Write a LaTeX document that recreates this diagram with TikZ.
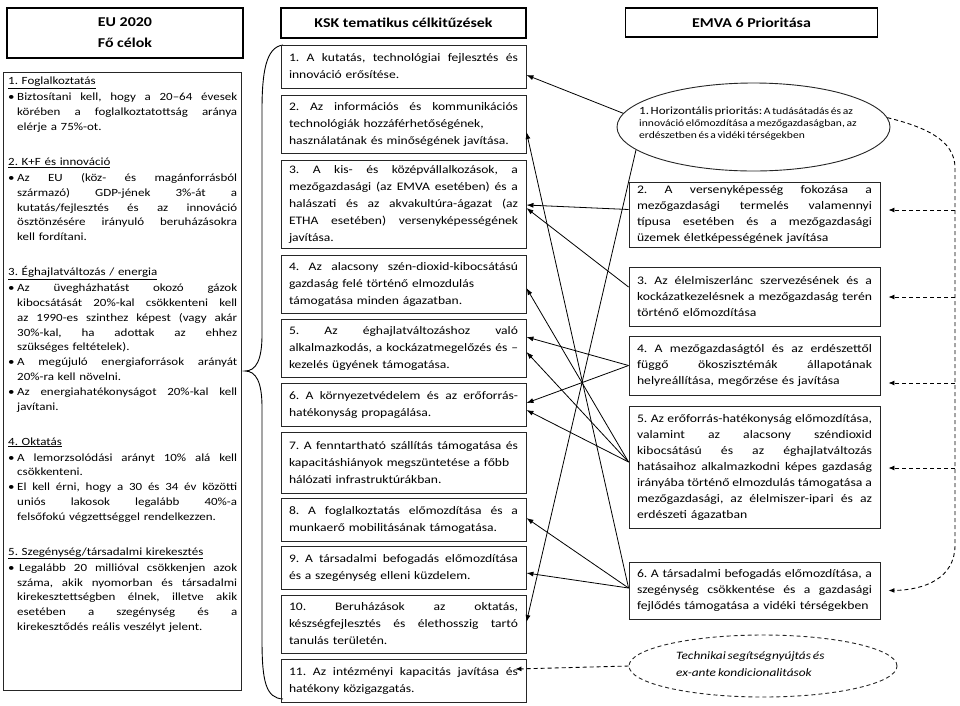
\documentclass[tikz,border=0pt]{standalone}
\usepackage{fontspec}
\setmainfont{Carlito}[FakeStretch=1.18]
\usetikzlibrary{arrows.meta,calc,shapes.geometric}
\frenchspacing
\newcommand{\bu}{\makebox[9pt][l]{\textbullet}}
\newcommand{\ind}{\hspace*{9pt}}
\newcommand{\jline}[2]{\leavevmode\hbox to #1{\spaceskip=0.1em plus 1fil minus 0.05em\relax #2}}
\newcommand{\LJ}[1]{\jline{220pt}{#1}}
\newcommand{\MJ}[1]{\jline{229pt}{#1}}
\newcommand{\RJ}[1]{\jline{235pt}{#1}}
\newcommand{\tsp}{\spaceskip=0.17em plus 0.05em\relax}
\begin{document}
\begin{tikzpicture}[x=1pt,y=-1pt,
  hdr/.style={draw=black, line width=1.8pt, align=center, inner sep=0pt, font=\fontsize{13.5}{21}\selectfont\bfseries},
  mbox/.style={draw=black!85, line width=0.9pt, minimum width=245pt, text width=229pt, inner xsep=8pt, inner ysep=0pt, align=left, font=\fontsize{11.5}{17}\selectfont\tsp},
  rbox/.style={draw=black!85, line width=0.9pt, minimum width=251pt, text width=235pt, inner xsep=8pt, inner ysep=0pt, align=left, font=\fontsize{11.6}{16}\selectfont\tsp},
  conn/.style={line width=0.8pt, -{Latex[length=7pt,width=5pt]}},
  dline/.style={line width=0.9pt, dash pattern=on 4pt off 3pt},
  dconn/.style={dline, -{Latex[length=6pt,width=5pt]}}]
\useasboundingbox (0,0) rectangle (960,705);
\fill[white] (0,0) rectangle (960,705);

% headers
\node[hdr, minimum width=236pt, minimum height=50pt] (hl) at (125,33) {EU 2020\\Fő célok};
\node[hdr, minimum width=245pt, minimum height=30pt] (hm) at (403.5,23) {KSK tematikus célkitűzések};
\node[hdr, minimum width=252pt, minimum height=29pt] (hr) at (751.5,22.5) {EMVA 6 Prioritása};

% left box
\node[draw=black!85, line width=0.9pt, minimum width=238pt, minimum height=618pt, inner sep=0pt] (lb) at (122,381) {};
\node[anchor=north west, inner sep=0pt, text width=229pt, align=left, font=\fontsize{11}{14.8}\selectfont\tsp] (lt) at (8,77) {%
\underline{1. Foglalkoztatás}\\[1.2pt]
\bu\LJ{Biztosítani kell, hogy a 20–64 évesek}\\
\ind\LJ{körében a foglalkoztatottság aránya}\\
\ind elérje a 75\%-ot.\\[20.2pt]
\underline{2. K+F és innováció}\\[1.2pt]
\bu\LJ{Az EU (köz- és magánforrásból}\\
\ind\LJ{származó) GDP-jének 3\%-át a}\\
\ind\LJ{kutatás/fejlesztés és az innováció}\\
\ind\LJ{ösztönzésére irányuló beruházásokra}\\
\ind kell fordítani.\\[20.2pt]
\underline{3. Éghajlatváltozás / energia}\\[1.2pt]
\bu\LJ{Az üvegházhatást okozó gázok}\\
\ind\LJ{kibocsátását 20\%-kal csökkenteni kell}\\
\ind\LJ{az 1990-es szinthez képest (vagy akár}\\
\ind\LJ{30\%-kal, ha adottak az ehhez}\\
\ind szükséges feltételek).\\
\bu\LJ{A megújuló energiaforrások arányát}\\
\ind 20\%-ra kell növelni.\\
\bu\LJ{Az energiahatékonyságot 20\%-kal kell}\\
\ind javítani.\\[20.2pt]
\underline{4. Oktatás}\\[1.2pt]
\bu\LJ{A lemorzsolódási arányt 10\% alá kell}\\
\ind csökkenteni.\\
\bu\LJ{El kell érni, hogy a 30 és 34 év közötti}\\
\ind\LJ{uniós lakosok legalább 40\%-a}\\
\ind felsőfokú végzettséggel rendelkezzen.\\[20.2pt]
\underline{5. Szegénység/társadalmi kirekesztés}\\[1.2pt]
\bu\LJ{\hspace{2pt}Legalább 20 millióval csökkenjen azok}\\
\ind\LJ{száma, akik nyomorban és társadalmi}\\
\ind\LJ{kirekesztettségben élnek, illetve akik}\\
\ind\LJ{esetében a szegénység és a}\\
\ind kirekesztődés reális veszélyt jelent.};

% brace
\draw[line width=0.9pt] (283,45) .. controls (266,47) and (262,72) .. (262,110) -- (262,335) .. controls (262,360) and (256,371) .. (245,371) .. controls (256,371) and (262,382) .. (262,407) -- (262,640) .. controls (262,682) and (266,698) .. (283,699);

% middle boxes
\node[mbox, minimum height=43pt] (m1) at (403.5,66.5) {\MJ{1. A kutatás, technológiai fejlesztés és}\\innováció erősítése.};
\node[mbox, minimum height=58pt] (m2) at (403.5,124) {\MJ{2. Az információs és kommunikációs}\\technológiák hozzáférhetőségének,\\használatának és minőségének javítása.};
\node[mbox, minimum height=88pt] (m3) at (403.5,204) {\MJ{3. A kis- és középvállalkozások, a}\\\MJ{mezőgazdasági (az EMVA esetében) és a}\\\MJ{halászati és az akvakultúra-ágazat (az}\\\MJ{ETHA esetében) versenyképességének}\\javítása.};
\node[mbox, minimum height=58pt] (m4) at (403.5,284) {\MJ{4. Az alacsony szén-dioxid-kibocsátású}\\gazdaság felé történő elmozdulás\\támogatása minden ágazatban.};
\node[mbox, minimum height=58pt] (m5) at (403.5,348) {\MJ{5. Az éghajlatváltozáshoz való}\\\MJ{alkalmazkodás, a kockázatmegelőzés és –}\\kezelés ügyének támogatása.};
\node[mbox, minimum height=43pt] (m6) at (403.5,404.5) {\MJ{6. A környezetvédelem és az erőforrás-}\\hatékonyság propagálása.};
\node[mbox, minimum height=61pt] (m7) at (403.5,462.5) {\MJ{7. A fenntartható szállítás támogatása és}\\kapacitáshiányok megszüntetése a főbb\\hálózati infrastruktúrákban.};
\node[mbox, minimum height=43pt] (m8) at (403.5,519.5) {\MJ{8. A foglalkoztatás előmozdítása és a}\\munkaerő mobilitásának támogatása.};
\node[mbox, minimum height=43pt] (m9) at (403.5,567.5) {\MJ{9. A társadalmi befogadás előmozdítása}\\és a szegénység elleni küzdelem.};
\node[mbox, minimum height=58pt] (m10) at (403.5,624) {\MJ{10. Beruházások az oktatás,}\\\MJ{készségfejlesztés és élethosszig tartó}\\tanulás területén.};
\node[mbox, minimum height=43pt] (m11) at (403.5,680.5) {\MJ{11. Az intézményi kapacitás javítása és}\\hatékony közigazgatás.};

% right column
\node[draw=black!85, line width=0.9pt, ellipse, minimum width=273pt, minimum height=88pt, inner sep=0pt] (h1) at (753.5,127) {};
\node[anchor=north west, inner sep=0pt, align=left, font=\fontsize{9.8}{12}\selectfont\tsp] (h1t) at (639,106.5) {{\fontsize{11}{12}\selectfont 1. Horizontális prioritás:} A tudásátadás és az\\innováció előmozdítása a mezőgazdaságban, az\\erdészetben és a vidéki térségekben};

\node[rbox, minimum height=65pt] (r2) at (754.5,214.5) {\RJ{2. A versenyképesség fokozása a}\\\RJ{mezőgazdasági termelés valamennyi}\\\RJ{típusa esetében és a mezőgazdasági}\\üzemek életképességének javítása};
\node[rbox, minimum height=59pt] (r3) at (754.5,296.5) {\RJ{3. Az élelmiszerlánc szervezésének és a}\\\RJ{kockázatkezelésnek a mezőgazdaság terén}\\történő előmozdítása};
\node[rbox, minimum height=59pt] (r4) at (754.5,365.5) {\RJ{4. A mezőgazdaságtól és az erdészettől}\\\RJ{függő ökoszisztémák állapotának}\\helyreállítása, megőrzése és javítása};
\node[rbox, minimum height=122pt] (r5) at (754.5,467) {\RJ{5. Az erőforrás-hatékonyság előmozdítása,}\\\RJ{valamint az alacsony széndioxid}\\\RJ{kibocsátású és az éghajlatváltozás}\\\RJ{hatásaihoz alkalmazkodni képes gazdaság}\\\RJ{irányába történő elmozdulás támogatása a}\\\RJ{mezőgazdasági, az élelmiszer-ipari és az}\\erdészeti ágazatban};
\node[rbox, minimum height=57pt] (r6) at (754.5,590.5) {\RJ{6. A társadalmi befogadás előmozdítása, a}\\\RJ{szegénység csökkentése és a gazdasági}\\fejlődés támogatása a vidéki térségekben};

\node[draw=black!85, dline, ellipse, minimum width=268pt, minimum height=62pt, inner sep=0pt] (e2) at (763,666) {};
\node[anchor=west, inner sep=0pt, align=left, font=\fontsize{11.3}{17}\selectfont\itshape\tsp] (e2t) at (676,664) {Technikai segítségnyújtás és\\ex-ante kondicionalitások};

% solid connectors
\draw[conn] (h1.174) -- ([yshift=-8.5pt]m1.east);
\draw[conn] (h1.191) -- ([yshift=2pt]m10.east);
\draw[conn] ([yshift=5pt]r2.west) -- ([yshift=-1pt]m3.east);
\draw[conn] ([yshift=9.5pt]r3.west) -- ([yshift=-4pt]m3.east);
\draw[conn] ([yshift=5pt]r5.west) -- ([yshift=-4pt]m4.east);
\draw[conn] (r4.west) -- ([yshift=11pt]m5.east);
\draw[conn] ([yshift=5pt]r5.west) -- ([yshift=-4pt]m5.east);
\draw[conn] (r4.west) -- ([yshift=1.5pt]m6.east);
\draw[conn] ([yshift=5pt]r5.west) -- ([yshift=-5.5pt]m6.east);
\draw[conn] ([yshift=2.5pt]r6.west) -- ([yshift=-8pt]m2.east);
\draw[conn] ([yshift=2.5pt]r6.west) -- ([yshift=1.5pt]m8.east);
\draw[conn] ([yshift=2.5pt]r6.west) -- ([yshift=-5.5pt]m9.east);

% dashed connectors
\coordinate (tA) at (955,168);
\coordinate (tB) at (955,545);
\coordinate (a2) at ([xshift=8pt,yshift=4.5pt]r2.east);
\coordinate (a3) at ([xshift=8pt,yshift=-0.5pt]r3.east);
\coordinate (a4) at ([xshift=8pt,yshift=-17.5pt]r4.east);
\coordinate (a5) at ([xshift=8pt,yshift=-1pt]r5.east);
\coordinate (a6) at ([xshift=8pt]r6.east);
\draw[dconn] (h1.4) .. controls (925,127) and (955,140) .. (tA) -- (tB) .. controls (955,578) and (925,590) .. (a6);
\draw[dconn] (tA |- a2) -- (a2);
\draw[dconn] (tA |- a3) -- (a3);
\draw[dconn] (tA |- a4) -- (a4);
\draw[dconn] (tA |- a5) -- (a5);
\draw[dconn] (e2.west) -- ([xshift=-11pt,yshift=11.5pt]m11.east);
\end{tikzpicture}
\end{document}
